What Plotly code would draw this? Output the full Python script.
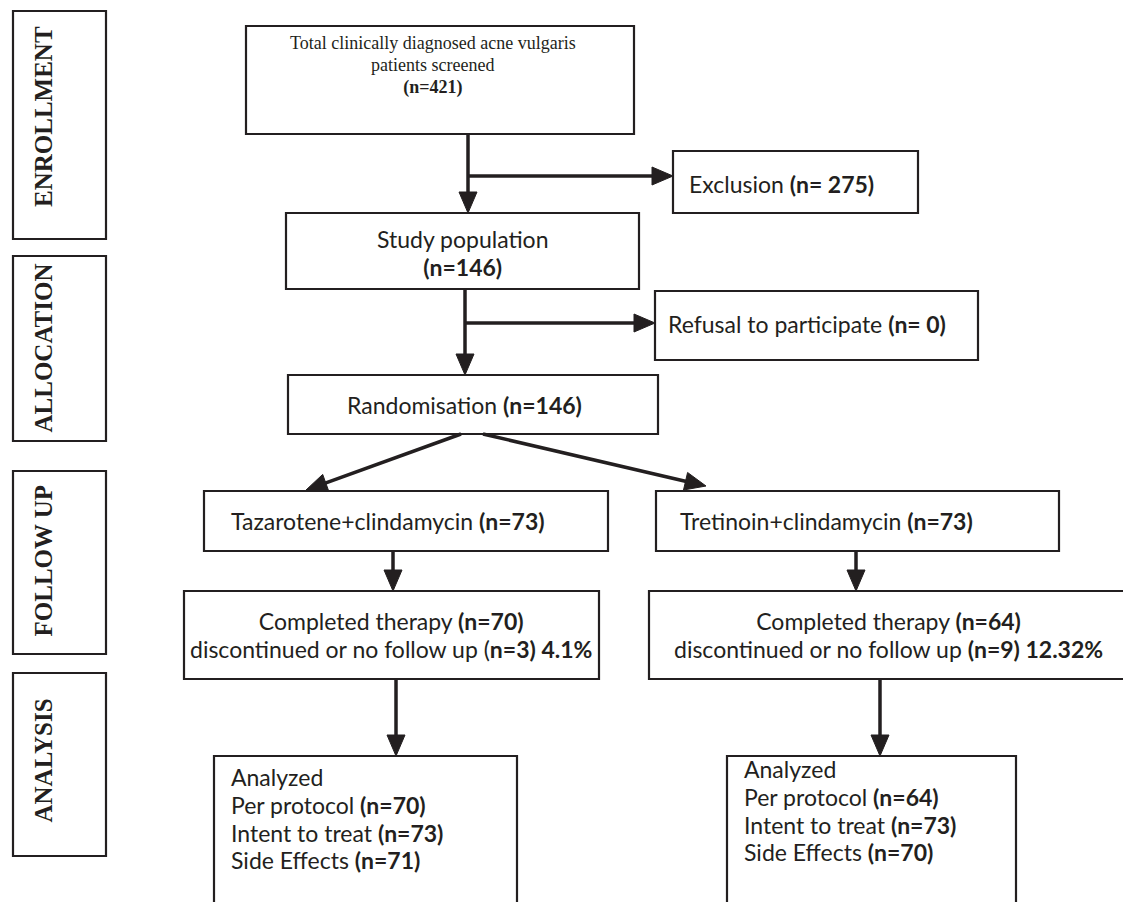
import plotly.graph_objects as go

# ---------------- data ----------------
stage_labels = ["ENROLLMENT", "ALLOCATION", "FOLLOW UP", "ANALYSIS"]
screened_n = 421
excluded_n = 275
study_n = 146
refusal_n = 0
random_n = 146
arm_names = ["Tazarotene+clindamycin", "Tretinoin+clindamycin"]
arm_n = [73, 73]
completed_n = [70, 64]
discontinued_n = [3, 9]
discontinued_pct = ["4.1%", "12.32%"]
per_protocol_n = [70, 64]
itt_n = [73, 73]
side_effects_n = [71, 70]

# ---------------- layout constants (pixels) ----------------
W, H = 1131, 902
INK = "#231f20"
SANS = "Lato"
SERIF = "Liberation Serif"
FS = 23
LH = 27.8

stage_boxes = [(5, 3, 98, 231), (5, 248, 98, 433), (5, 463, 98, 646), (5, 665, 98, 848)]
stage_text_dy = [-8, 0, -2, -4]
top_box = (238, 18, 626, 126)
excl_box = (665, 143, 910, 205)
study_box = (278, 205, 631, 281)
refusal_box = (647, 283, 970, 352)
rand_box = (280, 367, 650, 426)
arm_boxes = [(196, 483, 600, 543), (648, 483, 1051, 543)]
comp_boxes = [(176, 583, 591, 671), (641, 583, 1122, 671)]
anal_boxes = [(206, 748, 509, 910), (719, 748, 1008, 910)]

fig = go.Figure()
shapes = []
annotations = []


def box(b, width=2.2):
    shapes.append(dict(type="rect", xref="x", yref="y", x0=b[0], y0=b[1], x1=b[2], y1=b[3],
                       line=dict(color=INK, width=width), fillcolor="white", layer="below"))


def line(x0, y0, x1, y1, width=3.5):
    shapes.append(dict(type="line", xref="x", yref="y", x0=x0, y0=y0, x1=x1, y1=y1,
                       line=dict(color=INK, width=width)))


def arrow(x0, y0, x1, y1, head_len=21, head_half=9, width=3.5):
    dx, dy = x1 - x0, y1 - y0
    L = (dx * dx + dy * dy) ** 0.5
    ux, uy = dx / L, dy / L
    bx, by = x1 - ux * head_len, y1 - uy * head_len
    line(x0, y0, bx + ux * 2, by + uy * 2, width)
    px, py = -uy, ux
    path = (f"M {x1},{y1} L {bx + px * head_half},{by + py * head_half} "
            f"L {bx - px * head_half},{by - py * head_half} Z")
    shapes.append(dict(type="path", xref="x", yref="y", path=path,
                       fillcolor=INK, line=dict(color=INK, width=1)))


def text(x, y, s, size=FS, family=SANS, xanchor="center", align="center", angle=0):
    annotations.append(dict(x=x, y=y, xref="x", yref="y", text=s, showarrow=False,
                            xanchor=xanchor, yanchor="middle", align=align, textangle=angle,
                            borderpad=0, font=dict(family=family, size=size, color=INK)))


def block(x, y, rows, lh, size=FS, family=SANS, xanchor="center", align="center"):
    # one text element; line spacing set by the base size (1.3 em), glyphs by the span size
    base = lh / 1.3
    s = "<br>".join(f'<span style="font-size:{size}px">{r}</span>' for r in rows)
    text(x, y, s, size=base, family=family, xanchor=xanchor, align=align)


def cx(b):
    return (b[0] + b[2]) / 2


def cy(b):
    return (b[1] + b[3]) / 2


# stage label boxes
for b, lab, dy in zip(stage_boxes, stage_labels, stage_text_dy):
    box(b)
    text(b[0] + 30, cy(b) + dy, f"<b>{lab}</b>", size=25, family=SERIF, angle=-90)

# top box
box(top_box)
block(cx(top_box) - 7, 57,
      ["Total clinically diagnosed acne vulgaris", "patients screened", f"<b>(n={screened_n})</b>"],
      lh=22, size=18, family=SERIF)

# enrollment -> exclusion / study
trunk1 = 460
arrow(trunk1, top_box[3], trunk1, study_box[1])
arrow(trunk1, 168, excl_box[0], 168)
box(excl_box)
text(cx(excl_box) - 14, 176, f"Exclusion <b>(n= {excluded_n})</b>")

box(study_box)
block(cx(study_box), 245, ["Study population", f"<b>(n={study_n})</b>"], lh=LH)

trunk2 = 457
arrow(trunk2, study_box[3], trunk2, rand_box[1])
arrow(trunk2, 315, refusal_box[0], 315)
box(refusal_box)
text(cx(refusal_box) - 10, 316, f"Refusal to participate <b>(n= {refusal_n})</b>")

box(rand_box)
text(cx(rand_box) - 9, 397, f"Randomisation <b>(n={random_n})</b>")

# randomisation -> arms
arrow(453, rand_box[3], 298, arm_boxes[0][1] - 1)
arrow(475, rand_box[3], 698, arm_boxes[1][1] - 5)

arm_x = [385, 848]
ana_x = [388, 872]
arm_text_x = [380, 818]
ana_text_y = [810, 802]
for i in range(2):
    ab, cb, nb = arm_boxes[i], comp_boxes[i], anal_boxes[i]
    box(ab)
    text(arm_text_x[i], 513, f"{arm_names[i]} <b>(n={arm_n[i]})</b>")
    arrow(arm_x[i], ab[3], arm_x[i], cb[1])
    box(cb)
    if i == 0:
        disc = f"(<b>n={discontinued_n[i]}) {discontinued_pct[i]}</b>"
    else:
        disc = f"<b>(n={discontinued_n[i]}) {discontinued_pct[i]}</b>"
    block(cx(cb) - 1, 627,
          [f"Completed therapy <b>(n={completed_n[i]})</b>", f"discontinued or no follow up {disc}"],
          lh=LH)
    arrow(ana_x[i], cb[3], ana_x[i], nb[1])
    box(nb)
    block(nb[0] + 16, ana_text_y[i],
          ["Analyzed", f"Per protocol <b>(n={per_protocol_n[i]})</b>",
           f"Intent to treat <b>(n={itt_n[i]})</b>", f"Side Effects <b>(n={side_effects_n[i]})</b>"],
          lh=LH, xanchor="left", align="left")

fig.update_layout(
    width=W, height=H,
    margin=dict(l=0, r=0, t=0, b=0),
    paper_bgcolor="white", plot_bgcolor="white",
    xaxis=dict(range=[0, W], visible=False, fixedrange=True),
    yaxis=dict(range=[H, 0], visible=False, fixedrange=True),
    shapes=shapes, annotations=annotations,
    showlegend=False,
)

fig.write_html("out.html")
